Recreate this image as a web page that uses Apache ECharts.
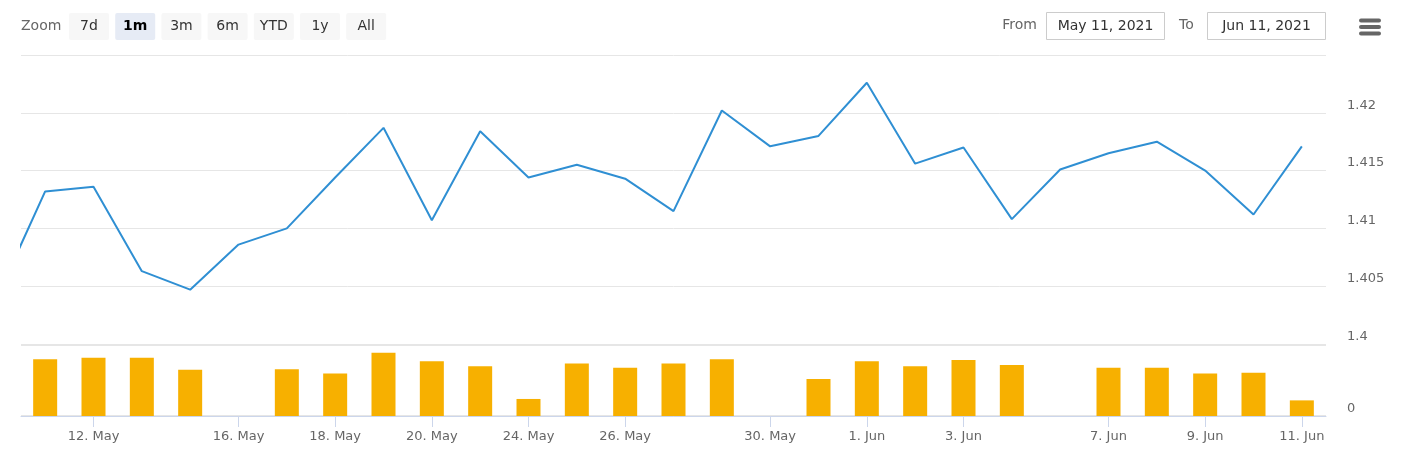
<!DOCTYPE html>
<html>
<head>
<meta charset="utf-8">
<title>Price and volume</title>
<script src="https://cdn.jsdelivr.net/npm/echarts@6/dist/echarts.min.js"></script>
<style>
  html, body { margin: 0; padding: 0; background: #fff; }
  #main { width: 1401px; height: 460px; }
</style>
</head>
<body>
<div id="main"></div>
<script>
// trading days shown (10 May sits just left of the visible range)
var dates = [
  "2021-05-10", "2021-05-11", "2021-05-12", "2021-05-13", "2021-05-14",
  "2021-05-16", "2021-05-17", "2021-05-18", "2021-05-19", "2021-05-20",
  "2021-05-21", "2021-05-24", "2021-05-25", "2021-05-26", "2021-05-27",
  "2021-05-28", "2021-05-30", "2021-05-31", "2021-06-01", "2021-06-02",
  "2021-06-03", "2021-06-04", "2021-06-06", "2021-06-07", "2021-06-08",
  "2021-06-09", "2021-06-10", "2021-06-11"
];
var closes = [
  1.4040, 1.4132, 1.4136, 1.4063, 1.4047,
  1.4086, 1.4100, 1.4144, 1.4187, 1.4107,
  1.4184, 1.4144, 1.4155, 1.4143, 1.4115,
  1.4202, 1.4171, 1.4180, 1.4226, 1.4156,
  1.4170, 1.4108, 1.4151, 1.4165, 1.4175,
  1.4150, 1.4112, 1.4171
];
var volumes = [
  null, 80, 82, 82, 65,
  0, 66, 60, 89, 77,
  70, 24, 74, 68, 74,
  80, 0, 52, 77, 70,
  79, 72, 0, 68, 68,
  60, 61, 22
];
// x axis ticks
var tickDates = [
  "2021-05-12", "2021-05-16", "2021-05-18", "2021-05-20", "2021-05-24", "2021-05-26",
  "2021-05-30", "2021-06-01", "2021-06-03", "2021-06-07", "2021-06-09", "2021-06-11"
];
var tickLabels = [
  "12. May", "16. May", "18. May", "20. May", "24. May", "26. May",
  "30. May", "1. Jun", "3. Jun", "7. Jun", "9. Jun", "11. Jun"
];
var zoomButtons = ["7d", "1m", "3m", "6m", "YTD", "1y", "All"];
var selectedButton = "1m";
var fromText = "May 11, 2021";
var toText = "Jun 11, 2021";

var FONT = "'DejaVu Sans', Verdana, sans-serif";
var tickIdx = tickDates.map(function (d) { return dates.indexOf(d); });
var priceData = closes.map(function (v, i) { return [i, v]; });
var volData = volumes.map(function (v, i) { return [i, v]; });

var chart = echarts.init(document.getElementById("main"));

// range selector + inputs drawn as graphics
var graphics = [];
graphics.push({
  type: "text",
  style: { text: "Zoom", x: 21, y: 26, fill: "#666666", font: "14px " + FONT, verticalAlign: "middle" }
});
zoomButtons.forEach(function (b, i) {
  var x = 69 + i * 46.2;
  var sel = b === selectedButton;
  graphics.push({
    type: "rect",
    shape: { x: x, y: 13, width: 40, height: 27, r: 2 },
    style: { fill: sel ? "#e6ebf5" : "#f7f7f7" }
  });
  graphics.push({
    type: "text",
    style: {
      text: b, x: x + 20, y: 26.5, align: "center", verticalAlign: "middle",
      fill: sel ? "#000000" : "#333333",
      font: (sel ? "bold " : "") + "14px " + FONT
    }
  });
});
graphics.push({
  type: "text",
  style: { text: "From", x: 1037, y: 25, align: "right", verticalAlign: "middle", fill: "#666666", font: "14px " + FONT }
});
graphics.push({
  type: "rect",
  shape: { x: 1046.5, y: 12.5, width: 118, height: 27 },
  style: { fill: "#fff", stroke: "#cccccc", lineWidth: 1 }
});
graphics.push({
  type: "text",
  style: { text: fromText, x: 1105.5, y: 26, align: "center", verticalAlign: "middle", fill: "#333333", font: "14px " + FONT }
});
graphics.push({
  type: "text",
  style: { text: "To", x: 1179, y: 25, verticalAlign: "middle", fill: "#666666", font: "14px " + FONT }
});
graphics.push({
  type: "rect",
  shape: { x: 1207.5, y: 12.5, width: 118, height: 27 },
  style: { fill: "#fff", stroke: "#cccccc", lineWidth: 1 }
});
graphics.push({
  type: "text",
  style: { text: toText, x: 1266.5, y: 26, align: "center", verticalAlign: "middle", fill: "#333333", font: "14px " + FONT }
});
// hamburger menu
[20.5, 27, 33.5].forEach(function (y) {
  graphics.push({
    type: "line",
    shape: { x1: 1361, y1: y, x2: 1379, y2: y },
    style: { stroke: "#666666", lineWidth: 4, lineCap: "round" }
  });
});

var option = {
  backgroundColor: "#ffffff",
  animation: false,
  graphic: graphics,
  grid: [
    { left: 21, right: 75, top: 55, height: 289 },
    { left: 21, right: 75, top: 345, height: 71 }
  ],
  xAxis: [
    {
      type: "value", gridIndex: 0, min: 0.5, max: dates.length - 0.5,
      axisLine: { show: false }, axisTick: { show: false },
      axisLabel: { show: false }, splitLine: { show: false }
    },
    {
      type: "value", gridIndex: 1, min: 0.5, max: dates.length - 0.5,
      axisLine: { show: true, onZero: false, lineStyle: { color: "#ccd6eb", width: 1 } },
      axisTick: { show: true, length: 11, customValues: tickIdx, lineStyle: { color: "#ccd6eb" } },
      axisLabel: {
        customValues: tickIdx,
        margin: 14,
        color: "#666666",
        fontSize: 13,
        fontFamily: FONT,
        formatter: function (v) {
          var k = tickIdx.indexOf(Math.round(v));
          return k >= 0 ? tickLabels[k] : "";
        }
      },
      splitLine: { show: false }
    }
  ],
  yAxis: [
    {
      type: "value", gridIndex: 0, position: "right",
      min: 1.4, max: 1.425, interval: 0.005,
      axisLine: { show: false }, axisTick: { show: false },
      axisLabel: {
        showMaxLabel: false,
        margin: 21,
        color: "#666666",
        fontSize: 13,
        fontFamily: FONT,
        verticalAlign: "bottom",
        padding: [0, 0, 1, 0],
        formatter: function (v) { return String(+v.toFixed(3)); }
      },
      splitLine: { show: true, lineStyle: { color: "#e6e6e6", width: 1 } }
    },
    {
      type: "value", gridIndex: 1, position: "right",
      min: 0, max: 100, interval: 100,
      axisLine: { show: false }, axisTick: { show: false },
      axisLabel: {
        showMaxLabel: false,
        margin: 21,
        color: "#666666",
        fontSize: 13,
        fontFamily: FONT,
        verticalAlign: "bottom",
        padding: [0, 0, 1, 0]
      },
      splitLine: { show: true, lineStyle: { color: "#e6e6e6", width: 2 } }
    }
  ],
  series: [
    {
      name: "Price",
      type: "line",
      xAxisIndex: 0, yAxisIndex: 0,
      data: priceData,
      showSymbol: false,
      clip: true,
      lineStyle: { color: "#2f8fd3", width: 2 },
      itemStyle: { color: "#2f8fd3" }
    },
    {
      name: "Volume",
      type: "bar",
      xAxisIndex: 1, yAxisIndex: 1,
      data: volData,
      barWidth: 24,
      clip: true,
      itemStyle: { color: "#f7b000", borderWidth: 0 }
    }
  ]
};

chart.setOption(option);
</script>
</body>
</html>
